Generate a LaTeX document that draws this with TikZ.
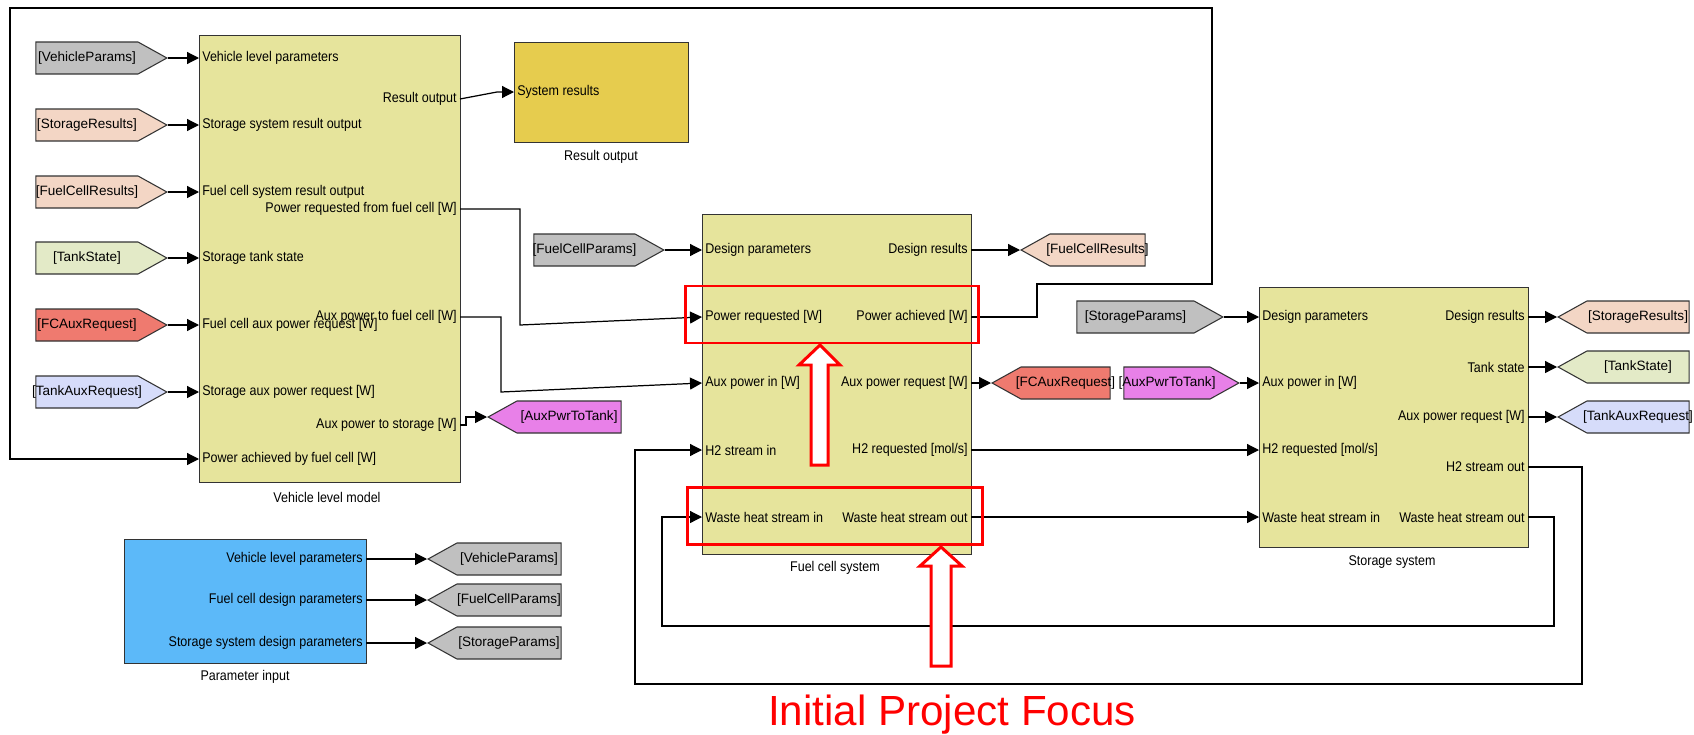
\documentclass[tikz,border=0pt]{standalone}
\usepackage{fontspec}
\setmainfont{Liberation Sans}
\newfontfamily\portfont[FakeStretch=0.89]{Liberation Sans}
\usetikzlibrary{shapes.symbols,arrows.meta}

\definecolor{blockyellow}{HTML}{E6E49C}
\definecolor{resultgold}{HTML}{E6CC4E}
\definecolor{paramblue}{HTML}{5CB9F9}
\definecolor{taggray}{HTML}{C0C0C0}
\definecolor{tagpeach}{HTML}{F3D6C5}
\definecolor{taggreen}{HTML}{E3EAC7}
\definecolor{tagred}{HTML}{EF7A6F}
\definecolor{tagblue}{HTML}{D6DCFA}
\definecolor{tagpink}{HTML}{E880E8}

\begin{document}
\begin{tikzpicture}[x=0.02cm, y=-0.02cm,
    font=\portfont\fontsize{8}{9}\selectfont,
    block/.style={draw=black!80, line width=0.8pt, anchor=north west, inner sep=0pt},
    inport/.style={anchor=west, inner xsep=0.06cm, inner ysep=0pt},
    outport/.style={anchor=east, inner xsep=0.06cm, inner ysep=0pt},
    tag/.style={draw=black!80, line width=0.6pt, signal, signal pointer angle=58,
        minimum height=0.64cm, inner xsep=-12pt,
        font=\fontsize{7.7}{9}\selectfont},
    fromtag/.style={tag, signal to=east, anchor=east},
    gototag/.style={tag, signal to=west, anchor=west},
    caption/.style={inner sep=0pt},
    wire/.style={line width=0.7pt, -{Triangle[length=2.4mm,width=2.4mm]}},
    focus/.style={draw=red, line width=1.7pt}]
\useasboundingbox (0,0) rectangle (1694,734);

% blocks
\node [block, fill=blockyellow, minimum width=5.22cm, minimum height=8.94cm] (vehicle)  at ( 199, 35) {};
\node [block, fill=resultgold,  minimum width=3.48cm, minimum height=2cm]    (results)  at ( 514, 42) {};
\node [block, fill=blockyellow, minimum width=5.38cm, minimum height=6.8cm]  (fuelcell) at ( 702,214) {};
\node [block, fill=blockyellow, minimum width=5.38cm, minimum height=5.2cm]  (storage)  at (1259,287) {};
\node [block, fill=paramblue,   minimum width=4.84cm, minimum height=2.48cm] (params)   at ( 124,539) {};

\node [caption] (vehcap) at ( 327,497) {Vehicle level model};
\node [caption] (rescap) at ( 601,157) {Result output};
\node [caption] (fccap)  at ( 835,568) {Fuel cell system};
\node [caption] (stcap)  at (1392,562) {Storage system};
\node [caption] (parcap) at ( 245,677) {Parameter input};

% vehicle level model ports
\node [inport]  (vpVeh)    at (199, 58) {Vehicle level parameters};
\node [inport]  (vpStRes)  at (199,125) {Storage system result output};
\node [inport]  (vpFcRes)  at (199,192) {Fuel cell system result output};
\node [inport]  (vpTank)   at (199,258) {Storage tank state};
\node [inport]  (vpFcAux)  at (199,325) {Fuel cell aux power request [W]};
\node [inport]  (vpStAux)  at (199,392) {Storage aux power request [W]};
\node [inport]  (vpPwrAch) at (199,459) {Power achieved by fuel cell [W]};
\node [outport] (voRes)    at (460, 99) {Result output};
\node [outport] (voPwrReq) at (460,209) {Power requested from fuel cell [W]};
\node [outport] (voAuxFc)  at (460,317) {Aux power to fuel cell [W]};
\node [outport] (voAuxSt)  at (460,425) {Aux power to storage [W]};

\node [inport]  (rpIn)     at (514, 92) {System results};

% fuel cell system ports
\node [inport]  (fpDesign) at (702,250) {Design parameters};
\node [inport]  (fpPwrReq) at (702,317) {Power requested [W]};
\node [inport]  (fpAux)    at (702,383) {Aux power in [W]};
\node [inport]  (fpH2)     at (702,450) {H2 stream in};
\node [inport]  (fpWaste)  at (702,517) {Waste heat stream in};
\node [outport] (foDesign) at (971,250) {Design results};
\node [outport] (foPwrAch) at (971,317) {Power achieved [W]};
\node [outport] (foAuxReq) at (971,383) {Aux power request [W]};
\node [outport] (foH2Req)  at (971,450) {H2 requested [mol/s]};
\node [outport] (foWaste)  at (971,517) {Waste heat stream out};

% storage system ports
\node [inport]  (spDesign) at (1259,317) {Design parameters};
\node [inport]  (spAux)    at (1259,383) {Aux power in [W]};
\node [inport]  (spH2Req)  at (1259,450) {H2 requested [mol/s]};
\node [inport]  (spWaste)  at (1259,517) {Waste heat stream in};
\node [outport] (soDesign) at (1528,317) {Design results};
\node [outport] (soTank)   at (1528,367) {Tank state};
\node [outport] (soAuxReq) at (1528,417) {Aux power request [W]};
\node [outport] (soH2)     at (1528,467) {H2 stream out};
\node [outport] (soWaste)  at (1528,517) {Waste heat stream out};

% parameter input ports
\node [outport] (ppVeh)    at (366,559) {Vehicle level parameters};
\node [outport] (ppFc)     at (366,600) {Fuel cell design parameters};
\node [outport] (ppSt)     at (366,643) {Storage system design parameters};

% from tags
\node [fromtag, fill=taggray,  minimum width=2.62cm] (fVehPar)  at ( 168, 58) {[VehicleParams]};
\node [fromtag, fill=tagpeach, minimum width=2.62cm] (fStRes)   at ( 168,125) {[StorageResults]};
\node [fromtag, fill=tagpeach, minimum width=2.62cm] (fFcRes)   at ( 168,192) {[FuelCellResults]};
\node [fromtag, fill=taggreen, minimum width=2.62cm] (fTank)    at ( 168,258) {[TankState]};
\node [fromtag, fill=tagred,   minimum width=2.62cm] (fFcAux)   at ( 168,325) {[FCAuxRequest]};
\node [fromtag, fill=tagblue,  minimum width=2.62cm] (fStAux)   at ( 168,392) {[TankAuxRequest]};
\node [fromtag, fill=taggray,  minimum width=2.6cm]  (fFcPar)   at ( 665,250) {[FuelCellParams]};
\node [fromtag, fill=taggray,  minimum width=2.92cm] (fStPar)   at (1224,317) {[StorageParams]};
\node [fromtag, fill=tagpink,  minimum width=2.3cm]  (fAuxTank) at (1240,383) {[AuxPwrToTank]};

% goto tags
\node [gototag, fill=tagpink,  minimum width=2.66cm] (gAuxTank) at ( 487,417) {[AuxPwrToTank]};
\node [gototag, fill=tagpeach, minimum width=2.48cm] (gFcRes)   at (1020,250) {[FuelCellResults]};
\node [gototag, fill=tagred,   minimum width=2.36cm] (gFcAux)   at ( 991,383) {[FCAuxRequest]};
\node [gototag, fill=tagpeach, minimum width=2.62cm] (gStRes)   at (1557,317) {[StorageResults]};
\node [gototag, fill=taggreen, minimum width=2.62cm] (gTank)    at (1557,367) {[TankState]};
\node [gototag, fill=tagblue,  minimum width=2.62cm] (gStAux)   at (1557,417) {[TankAuxRequest]};
\node [gototag, fill=taggray,  minimum width=2.66cm] (gVehPar)  at ( 427,559) {[VehicleParams]};
\node [gototag, fill=taggray,  minimum width=2.66cm] (gFcPar)   at ( 427,600) {[FuelCellParams]};
\node [gototag, fill=taggray,  minimum width=2.66cm] (gStPar)   at ( 427,643) {[StorageParams]};

% tag wires
\draw [wire] (fVehPar.east) -- (vpVeh.west);
\draw [wire] (fStRes.east)  -- (vpStRes.west);
\draw [wire] (fFcRes.east)  -- (vpFcRes.west);
\draw [wire] (fTank.east)   -- (vpTank.west);
\draw [wire] (fFcAux.east)  -- (vpFcAux.west);
\draw [wire] (fStAux.east)  -- (vpStAux.west);
\draw [wire] (fFcPar.east)  -- (fpDesign.west);
\draw [wire] (fStPar.east)  -- (spDesign.west);
\draw [wire] (fAuxTank.east) -- (spAux.west);
\draw [wire] (foDesign.east) -- (gFcRes.west);
\draw [wire] (foAuxReq.east) -- (gFcAux.west);
\draw [wire] (soDesign.east) -- (gStRes.west);
\draw [wire] (soTank.east)   -- (gTank.west);
\draw [wire] (soAuxReq.east) -- (gStAux.west);
\draw [wire] (ppVeh.east) -- (gVehPar.west);
\draw [wire] (ppFc.east)  -- (gFcPar.west);
\draw [wire] (ppSt.east)  -- (gStPar.west);
\draw [wire] (voAuxSt.east) -- (466,425) |- (gAuxTank.west);

% signal wires
\draw [wire] (voRes.east) -- (497,92) -- (rpIn.west);
\draw [wire] (voPwrReq.east) -| (520,325) -- (fpPwrReq.west);
\draw [wire] (voAuxFc.east) -| (501,392) -- (fpAux.west);
\draw [wire] (foPwrAch.east) -| (1037,284) -| (1212,8) -| (10,459) -- (vpPwrAch.west);
\draw [wire] (foH2Req.east) -- (spH2Req.west);
\draw [wire] (foWaste.east) -- (spWaste.west);
\draw [wire] (soH2.east) -| (1582,684) -| (635,450) -- (fpH2.west);
\draw [wire] (soWaste.east) -| (1554,626) -| (662,517) -- (fpWaste.west);

% project focus
\draw [focus] (685,286) rectangle (978,343);
\draw [focus] (687,487) rectangle (982,544);
\draw [focus, fill=white] (820,345) -- (840,365) -- (828,365) -- (828,465)
    -- (811,465) -- (811,365) -- (799,365) -- cycle;
\draw [focus, fill=white] (941,547) -- (962,566) -- (951,566) -- (951,666)
    -- (931,666) -- (931,566) -- (920,566) -- cycle;
\node [anchor=base, text=red, font=\fontsize{24}{28}\selectfont] (focustext) at (952,725) {Initial Project Focus};
\end{tikzpicture}
\end{document}
